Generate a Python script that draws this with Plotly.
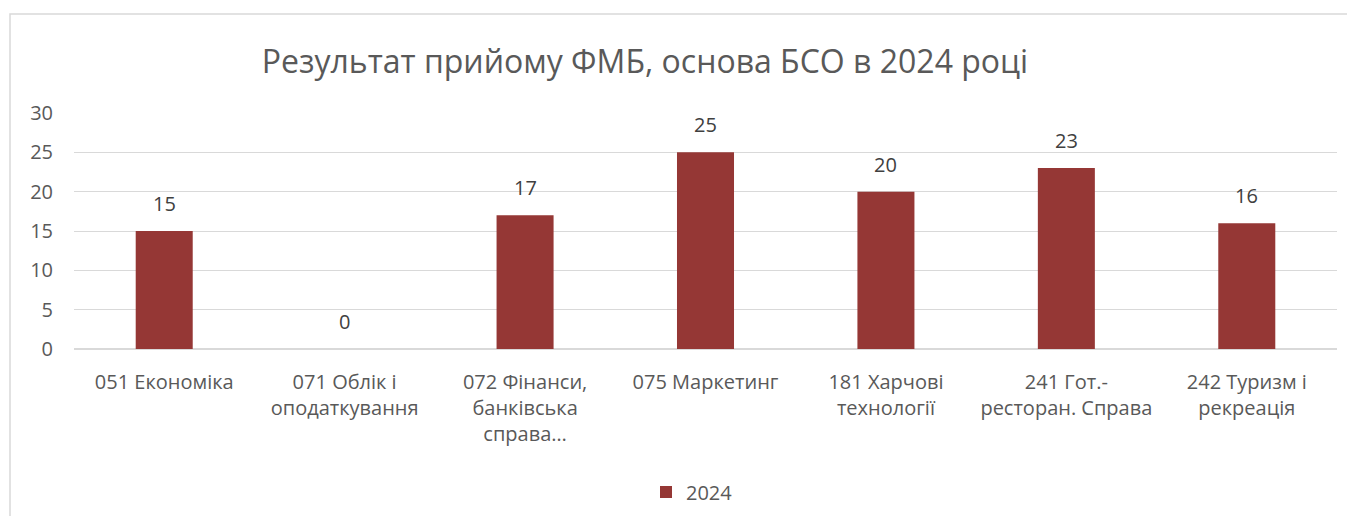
import plotly.graph_objects as go

categories = ["051 Економіка", "071 Облік і<br>оподаткування", "072 Фінанси,<br>банківська<br>справа…",
              "075 Маркетинг", "181 Харчові<br>технології", "241 Гот.-<br>ресторан. Справа",
              "242 Туризм і<br>рекреація"]
values_2024 = [15, 0, 17, 25, 20, 23, 16]
series_name = "2024"
y_ticks = [0, 5, 10, 15, 20, 25, 30]
title_text = "Результат прийому ФМБ, основа БСО в 2024 році"

OFF = 8  # page body offset
W, H = 1355 - 2 * OFF, 524 - 2 * OFF
L, T = 74 - OFF, 113 - OFF
R = W - (1337 - OFF)
B = H - (349 - OFF)
pw, ph = W - L - R, H - T - B

FONT = "Open Sans"
TXT = "#595959"
BAR = "#953735"
GRID = "#d9d9d9"


def px_x(x):
    return (x - OFF - L) / pw


def px_y(y):
    return (H - B - (y - OFF)) / ph


fig = go.Figure()
fig.add_trace(go.Bar(x=categories, y=values_2024, name=series_name,
                     marker=dict(color=BAR, line=dict(width=0))))

for c, v in zip(categories, values_2024):
    fig.add_annotation(x=c, y=v, text=str(v), showarrow=False, yanchor="bottom",
                       yshift=12, font=dict(family=FONT, size=20, color="#404040"))

fig.add_shape(type="rect", xref="paper", yref="paper",
              x0=px_x(10), x1=px_x(1375), y0=px_y(545), y1=px_y(14),
              line=dict(color=GRID, width=1.5), fillcolor="rgba(0,0,0,0)", layer="below")

fig.update_layout(
    width=W, height=H,
    margin=dict(l=L, r=R, t=T, b=B, autoexpand=False),
    paper_bgcolor="white", plot_bgcolor="white",
    title=dict(text=title_text, x=(645 - OFF) / W, xanchor="center", y=1 - (62 - OFF) / H,
               yanchor="middle", font=dict(family=FONT, size=32, color=TXT)),
    bargap=0.684,
    showlegend=True,
    legend=dict(orientation="h", x=px_x(692), xanchor="center", y=px_y(492), yanchor="middle",
                font=dict(family=FONT, size=20, color=TXT), itemwidth=30),
    xaxis=dict(tickfont=dict(family=FONT, size=20, color=TXT), showline=True, linecolor=GRID,
               linewidth=1, ticks="", showgrid=False, ticklabelstandoff=15, automargin=False),
    yaxis=dict(range=[0, 30], tickvals=y_ticks, tickfont=dict(family=FONT, size=20, color=TXT),
               showgrid=True, gridcolor=GRID, gridwidth=1, zeroline=True, zerolinecolor=GRID,
               ticks="", ticklabelstandoff=20, showline=False, automargin=False),
    font=dict(family=FONT, color=TXT),
)

fig.write_html("out.html")
